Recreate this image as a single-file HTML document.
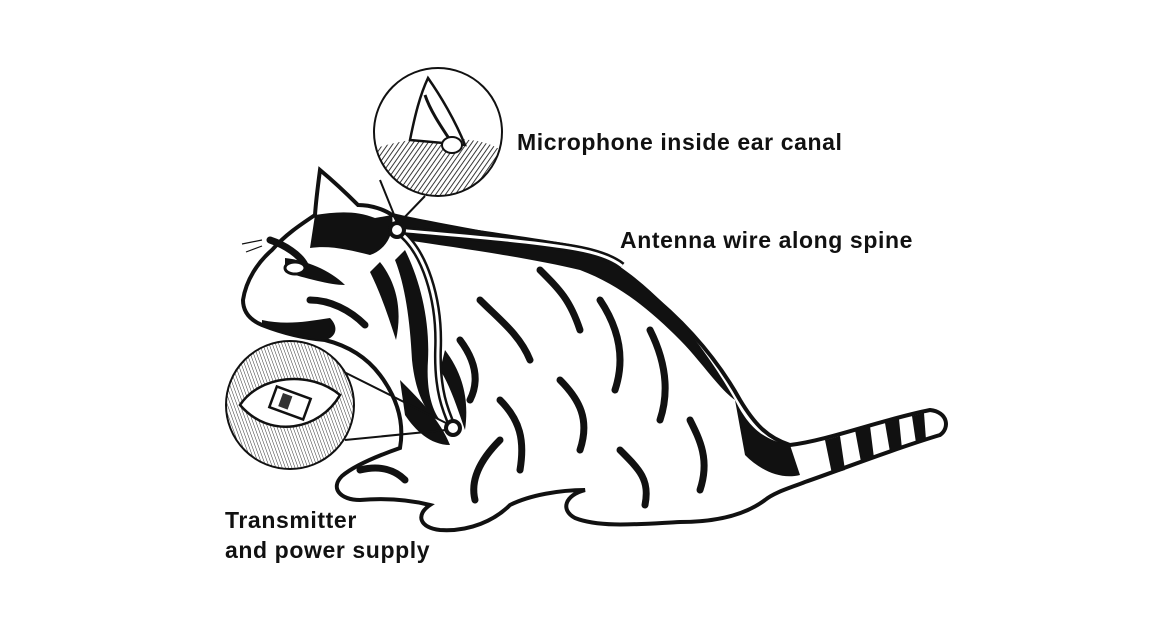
<!DOCTYPE html>
<html><head><meta charset="utf-8"><style>
html,body{margin:0;padding:0;background:#fff;}
body{width:1169px;height:623px;overflow:hidden;}
text{font-family:"Liberation Sans",sans-serif;font-weight:bold;fill:#111;letter-spacing:0.6px;}
</style></head><body>
<svg width="1169" height="623" viewBox="0 0 1169 623" xmlns="http://www.w3.org/2000/svg">
<defs>
<pattern id="hatch" width="4" height="4" patternUnits="userSpaceOnUse" patternTransform="rotate(35)">
<rect width="4" height="4" fill="#fff"/><line x1="0" y1="0" x2="0" y2="4" stroke="#222" stroke-width="1.8"/></pattern>
<pattern id="hatch2" width="3" height="3" patternUnits="userSpaceOnUse" patternTransform="rotate(-20)">
<rect width="3" height="3" fill="#fff"/><line x1="0" y1="0" x2="0" y2="3" stroke="#333" stroke-width="1"/></pattern>
<clipPath id="c1"><circle cx="438" cy="132" r="64"/></clipPath>
<clipPath id="c2"><circle cx="290" cy="405" r="64"/></clipPath>
</defs>

<!-- cat body -->
<path d="M243,300 C246,280 258,262 272,250 C285,235 300,225 315,215 C316,200 318,185 320,170 C332,180 345,192 358,205 C372,205 385,210 392,215 C420,222 470,230 520,240 C570,248 610,262 645,290 C680,318 715,355 740,400 C755,425 768,438 790,445 C830,440 880,420 930,410 C948,412 950,428 940,435 C890,450 840,470 805,482 C790,488 775,492 765,500 C745,515 715,522 680,522 C640,524 600,528 575,518 C560,510 565,495 585,490 C560,490 530,495 510,505 C495,520 470,532 440,530 C420,528 415,515 430,505 C410,500 385,498 360,500 C340,500 330,488 342,476 C355,465 380,455 400,448 C405,420 395,395 380,375 C365,355 345,345 325,340 C300,338 280,332 262,325 C250,320 243,312 243,300 Z" fill="#fff" stroke="#111" stroke-width="4"/>
<g fill="#111">
<path d="M315,215 C335,212 355,210 375,218 L392,215 C395,235 385,250 370,255 C350,250 330,245 310,248 Z"/>
<path d="M285,258 C305,260 330,270 345,285 C330,285 305,278 285,272 Z"/>
<path d="M262,320 C285,325 305,322 330,318 C340,328 335,338 325,340 C300,338 280,332 262,325 Z"/>
<path d="M380,262 C398,285 402,312 396,340 C388,315 380,292 370,272 Z"/>
<path d="M392,215 C440,226 520,235 575,245 C610,255 640,280 665,305 C690,330 715,365 735,400 C720,390 700,360 680,340 C650,310 620,285 580,270 C530,258 460,248 405,240 Z"/>
<path d="M735,400 C750,430 765,440 790,445 L800,475 C780,480 760,470 745,455 Z"/>
<path d="M400,380 C420,400 440,420 450,445 C430,445 415,430 405,415 Z"/>
<path d="M405,250 C420,280 430,320 428,360 C426,390 432,410 440,420 C425,415 415,390 412,360 C410,320 405,285 395,260 Z"/>
<path d="M445,350 C460,370 470,395 465,430 C458,410 450,385 440,370 Z"/>
<path d="M825,440 L840,436 L845,470 L832,474 Z"/><path d="M855,430 L870,426 L874,458 L861,462 Z"/>
<path d="M885,423 L899,419 L902,449 L890,452 Z"/><path d="M912,416 L924,413 L926,440 L916,443 Z"/>
</g>
<g stroke="#111" stroke-width="7" fill="none" stroke-linecap="round">
<path d="M480,300 C500,320 520,335 530,360"/>
<path d="M540,270 C560,290 570,300 580,330"/>
<path d="M600,300 C620,330 625,360 615,390"/>
<path d="M650,330 C665,360 670,390 660,420"/>
<path d="M560,380 C580,400 590,420 580,450"/>
<path d="M500,400 C520,420 525,440 520,470"/>
<path d="M690,420 C700,440 710,460 700,490"/>
<path d="M620,450 C640,470 650,480 645,505"/>
<path d="M460,340 C475,360 480,380 470,400"/>
<path d="M310,300 C330,300 350,310 365,325"/>
<path d="M270,240 C285,245 300,255 305,265"/>
<path d="M500,440 C480,460 470,480 475,500"/>
<path d="M360,470 C380,465 395,470 405,480"/>
</g>
<ellipse cx="295" cy="268" rx="10" ry="6" fill="#fff" stroke="#111" stroke-width="3"/>
<g stroke="#111" stroke-width="1.2"><line x1="262" y1="240" x2="242" y2="244"/><line x1="262" y1="246" x2="246" y2="252"/></g>

<!-- wire -->
<path d="M397,230 C425,250 440,300 438,350 C437,390 445,410 453,428" fill="none" stroke="#111" stroke-width="8"/>
<path d="M397,230 C425,250 440,300 438,350 C437,390 445,410 453,428" fill="none" stroke="#fff" stroke-width="3"/>
<path d="M397,230 C450,235 520,240 570,248 C595,252 612,258 622,266" fill="none" stroke="#111" stroke-width="8"/>
<path d="M397,230 C450,235 520,240 570,248 C595,252 612,258 622,266" fill="none" stroke="#fff" stroke-width="3"/>
<circle cx="397" cy="230" r="7" fill="#fff" stroke="#111" stroke-width="4"/>
<circle cx="453" cy="428" r="7" fill="#fff" stroke="#111" stroke-width="4"/>

<line x1="380" y1="180" x2="397" y2="222" stroke="#111" stroke-width="2"/>
<line x1="425" y1="196" x2="400" y2="222" stroke="#111" stroke-width="2"/>
<line x1="340" y1="370" x2="448" y2="424" stroke="#111" stroke-width="2"/>
<line x1="345" y1="440" x2="446" y2="430" stroke="#111" stroke-width="2"/>

<circle cx="438" cy="132" r="64" fill="#fff"/>
<g clip-path="url(#c1)">
<path d="M370,150 C400,140 430,135 470,140 C490,142 505,150 510,160 L510,200 L370,200 Z" fill="url(#hatch)"/>
<path d="M410,140 C415,115 420,95 428,78 C440,95 455,120 465,145 Z" fill="#fff" stroke="#111" stroke-width="2.5"/>
<path d="M425,95 C430,110 440,125 450,140" stroke="#111" stroke-width="3" fill="none"/>
<ellipse cx="452" cy="145" rx="10" ry="8" fill="#fff" stroke="#111" stroke-width="2"/>
</g>
<circle cx="438" cy="132" r="64" fill="none" stroke="#111" stroke-width="2"/>

<circle cx="290" cy="405" r="64" fill="url(#hatch2)"/>
<g clip-path="url(#c2)">
<path d="M240,405 C260,375 310,370 340,395 C320,430 270,440 240,405 Z" fill="#fff" stroke="#111" stroke-width="2.5"/>
<rect x="272" y="392" width="36" height="22" fill="#fff" stroke="#111" stroke-width="2.5" transform="rotate(20 290 403)"/>
<rect x="280" y="396" width="10" height="14" fill="#333" transform="rotate(20 290 403)"/>
</g>
<circle cx="290" cy="405" r="64" fill="none" stroke="#111" stroke-width="2"/>

<text x="517" y="150" font-size="23">Microphone inside ear canal</text>
<text x="620" y="248" font-size="23">Antenna wire along spine</text>
<text x="225" y="528" font-size="23">Transmitter</text>
<text x="225" y="558" font-size="23">and power supply</text>
</svg>
</body></html>
